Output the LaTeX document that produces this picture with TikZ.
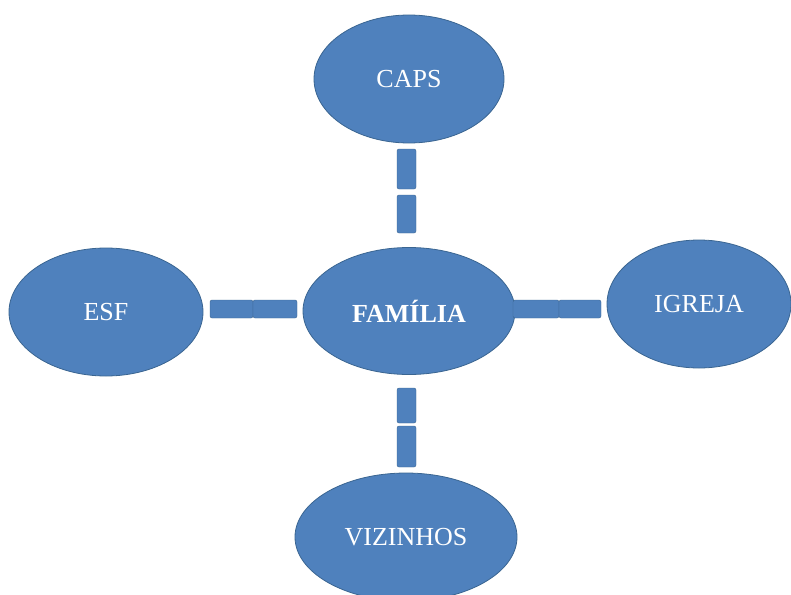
\documentclass[tikz,border=0pt]{standalone}
\usepackage{fontspec}
\setmainfont{Liberation Serif}
\usetikzlibrary{shapes.geometric,positioning}
\definecolor{bubblefill}{HTML}{4F81BD}
\definecolor{bubbleedge}{HTML}{3A6591}

\begin{document}
\begin{tikzpicture}[
  x=1pt, y=-1pt,
  bubble/.style={ellipse, draw=bubbleedge, thick, fill=bubblefill, text=white,
    minimum width=190pt, minimum height=128pt, font=\fontsize{26}{30}\selectfont},
  vbar/.style={rectangle, rounded corners=2pt, draw=bubbleedge, fill=bubblefill,
    minimum width=19pt, minimum height=#1, inner sep=0pt},
  hbar/.style={rectangle, rounded corners=2pt, draw=bubbleedge, fill=bubblefill,
    minimum height=18pt, minimum width=#1, inner sep=0pt}
]
  \useasboundingbox (0,0) rectangle (791,594);

  % bubbles
  \node[bubble] (caps) at (409,79) {CAPS};
  \node[bubble, minimum width=212pt, minimum height=127pt, font=\fontsize{26}{30}\selectfont\bfseries] (familia) at (409,311) {FAMÍLIA};
  \node[bubble, minimum width=194pt] (esf) at (106,312) {ESF};
  \node[bubble, minimum width=184pt] (igreja) at (699,304) {IGREJA};
  \node[bubble, minimum width=222pt] (vizinhos) at (406,537) {VIZINHOS};

  % links
  \node[vbar=40pt] (up1) at (406.5,169) {};
  \node[vbar=38pt] (up2) at (406.5,214) {};
  \node[vbar=35pt] (down1) at (406.5,405.5) {};
  \node[vbar=41pt] (down2) at (406.5,446.5) {};
  \node[hbar=43pt] (left1) at (231.5,309) {};
  \node[hbar=44pt] (left2) at (275,309) {};
  \node[hbar=46pt] (right1) at (536,309) {};
  \node[hbar=42pt] (right2) at (580,309) {};
\end{tikzpicture}
\end{document}
